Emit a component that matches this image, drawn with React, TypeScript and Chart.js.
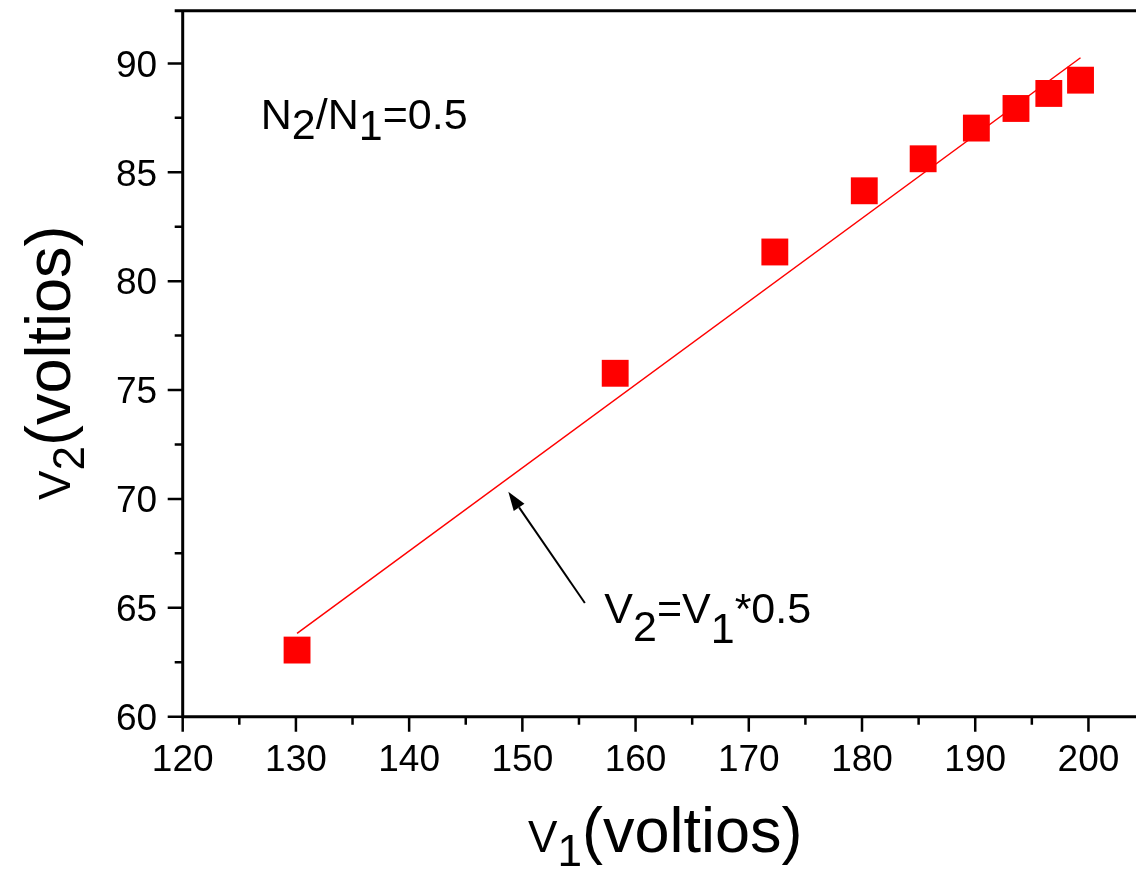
import React, { useEffect, useRef } from 'react';
import { Chart, registerables } from 'chart.js';

Chart.register(...registerables);

// ---- data ----
const V1_VALUES = [130.1, 158.2, 172.3, 180.2, 185.4, 190.1, 193.6, 196.5, 199.3];
const V2_VALUES = [63.06, 75.77, 81.34, 84.15, 85.62, 87.03, 87.93, 88.62, 89.23];
const FIT_X = [130.1, 199.3];
const FIT_Y = [63.83, 90.26];

const X_MIN = 120;
const X_MAX = 204.2;
const Y_MIN = 60;
const Y_MAX = 92.42;
const X_MAJOR = 10;
const X_MINOR = 5;
const Y_MAJOR = 5;
const Y_MINOR = 2.5;

// annotation anchors (data coordinates)
const RATIO_LABEL_POS = { x: 126.9, y: 86.97 };
const EQ_LABEL_POS = { x: 157.24, y: 64.29 };
const ARROW_TAIL = { x: 155.52, y: 65.22 };
const ARROW_TIP = { x: 148.76, y: 70.33 };

const FONT = '"Liberation Sans", Arial, Helvetica, sans-serif';
const RED = '#ff0000';
const TICK_FONT = 37;

type Part = { t: string; scale?: number; drop?: number };

function drawRich(ctx: CanvasRenderingContext2D, parts: Part[], x: number, y: number, size: number) {
  let cx = x;
  ctx.textBaseline = 'alphabetic';
  ctx.textAlign = 'left';
  for (const p of parts) {
    ctx.font = `${size * (p.scale ?? 1)}px ${FONT}`;
    ctx.fillText(p.t, cx, y + (p.drop ?? 0));
    cx += ctx.measureText(p.t).width;
  }
}

const decorPlugin = {
  id: 'decor',
  afterDraw(chart: any) {
    const { ctx, chartArea } = chart;
    const xs = chart.scales.x;
    const ys = chart.scales.y;
    ctx.save();
    ctx.strokeStyle = '#000';
    ctx.fillStyle = '#000';

    // axis frame
    ctx.lineWidth = 3;
    ctx.beginPath();
    ctx.moveTo(chartArea.left, chartArea.top);
    ctx.lineTo(chartArea.left, chartArea.bottom);
    ctx.lineTo(chartArea.right, chartArea.bottom);
    ctx.moveTo(chartArea.left - 8, chartArea.top);
    ctx.lineTo(chartArea.right, chartArea.top);
    ctx.stroke();

    // tick marks (outward)
    ctx.lineWidth = 2.5;
    ctx.beginPath();
    for (let v = X_MIN; v <= X_MAX + 1e-9; v += X_MINOR) {
      const px = xs.getPixelForValue(v);
      const major = Math.abs(v / X_MAJOR - Math.round(v / X_MAJOR)) < 1e-6;
      ctx.moveTo(px, chartArea.bottom);
      ctx.lineTo(px, chartArea.bottom + (major ? 15 : 8));
    }
    for (let v = Y_MIN; v <= Y_MAX + 1e-9; v += Y_MINOR) {
      const py = ys.getPixelForValue(v);
      const major = Math.abs(v / Y_MAJOR - Math.round(v / Y_MAJOR)) < 1e-6;
      ctx.moveTo(chartArea.left, py);
      ctx.lineTo(chartArea.left - (major ? 15 : 8), py);
    }
    ctx.stroke();

    // tick labels from the scales' own ticks
    ctx.font = `${TICK_FONT}px ${FONT}`;
    ctx.textBaseline = 'alphabetic';
    ctx.textAlign = 'center';
    for (const t of xs.ticks) {
      ctx.fillText(String(t.value), xs.getPixelForValue(t.value), chartArea.bottom + 54.5);
    }
    ctx.textAlign = 'right';
    for (const t of ys.ticks) {
      ctx.fillText(String(t.value), chartArea.left - 25.5, ys.getPixelForValue(t.value) + 13.3);
    }

    // annotations
    drawRich(
      ctx,
      [{ t: 'N' }, { t: '2', drop: 10 }, { t: '/N' }, { t: '1', drop: 11 }, { t: '=0.5' }],
      xs.getPixelForValue(RATIO_LABEL_POS.x),
      ys.getPixelForValue(RATIO_LABEL_POS.y),
      43
    );
    drawRich(
      ctx,
      [{ t: 'V' }, { t: '2', drop: 18 }, { t: '=V' }, { t: '1', drop: 20 }, { t: '*0.5' }],
      xs.getPixelForValue(EQ_LABEL_POS.x),
      ys.getPixelForValue(EQ_LABEL_POS.y),
      43
    );

    // arrow
    const tx = xs.getPixelForValue(ARROW_TAIL.x);
    const ty = ys.getPixelForValue(ARROW_TAIL.y);
    const hx = xs.getPixelForValue(ARROW_TIP.x);
    const hy = ys.getPixelForValue(ARROW_TIP.y);
    const ang = Math.atan2(hy - ty, hx - tx);
    const headLen = 19;
    const headHalf = 6.5;
    const bx = hx - headLen * Math.cos(ang);
    const by = hy - headLen * Math.sin(ang);
    ctx.lineWidth = 2;
    ctx.beginPath();
    ctx.moveTo(tx, ty);
    ctx.lineTo(bx, by);
    ctx.stroke();
    ctx.beginPath();
    ctx.moveTo(hx, hy);
    ctx.lineTo(bx + headHalf * Math.sin(ang), by - headHalf * Math.cos(ang));
    ctx.lineTo(bx - headHalf * Math.sin(ang), by + headHalf * Math.cos(ang));
    ctx.closePath();
    ctx.fill();

    // axis titles
    const titleSize = 63;
    const xParts: Part[] = [{ t: 'V', scale: 0.7 }, { t: '1', scale: 0.7, drop: 14 }, { t: '(voltios)' }];
    drawRich(ctx, xParts, 528, 852, titleSize);

    const yParts: Part[] = [{ t: 'V', scale: 0.7 }, { t: '2', scale: 0.7, drop: 14 }, { t: '(voltios)' }];
    ctx.save();
    ctx.translate(70, 500);
    ctx.rotate(-Math.PI / 2);
    drawRich(ctx, yParts, 0, 0, titleSize);
    ctx.restore();

    ctx.restore();
  },
};

export default function App() {
  const canvasRef = useRef<HTMLCanvasElement | null>(null);

  useEffect(() => {
    const canvas = canvasRef.current;
    if (!canvas) return;
    const chart = new Chart(canvas, {
      type: 'scatter',
      data: {
        datasets: [
          {
            label: 'measured',
            data: V1_VALUES.map((v, i) => ({ x: v, y: V2_VALUES[i] })),
            pointStyle: 'rect',
            pointRadius: 19,
            pointHoverRadius: 19,
            backgroundColor: RED,
            borderColor: RED,
            borderWidth: 0,
            showLine: false,
            clip: false,
          },
          {
            label: 'fit',
            data: FIT_X.map((v, i) => ({ x: v, y: FIT_Y[i] })),
            showLine: true,
            borderColor: RED,
            borderWidth: 1.5,
            pointRadius: 0,
            pointHoverRadius: 0,
            fill: false,
            clip: false,
          },
        ],
      },
      options: {
        animation: false,
        responsive: false,
        maintainAspectRatio: false,
        events: [],
        layout: {
          autoPadding: false,
          padding: { left: 182.7, top: 10.7, right: 0, bottom: 874 - 716.7 },
        },
        plugins: {
          legend: { display: false },
          tooltip: { enabled: false },
        },
        scales: {
          x: {
            type: 'linear',
            position: 'bottom',
            min: X_MIN,
            max: X_MAX,
            grid: { display: false, drawTicks: false },
            border: { display: false },
            ticks: { display: false, stepSize: X_MAJOR, includeBounds: false },
          },
          y: {
            type: 'linear',
            min: Y_MIN,
            max: Y_MAX,
            grid: { display: false, drawTicks: false },
            border: { display: false },
            ticks: { display: false, stepSize: Y_MAJOR, includeBounds: false },
          },
        },
      },
      plugins: [decorPlugin],
    });
    return () => chart.destroy();
  }, []);

  return (
    <div style={{ position: 'absolute', left: 0, top: 0, width: 1136, height: 874, background: '#fff' }}>
      <canvas ref={canvasRef} width={1136} height={874} style={{ width: 1136, height: 874, display: 'block' }} />
    </div>
  );
}
